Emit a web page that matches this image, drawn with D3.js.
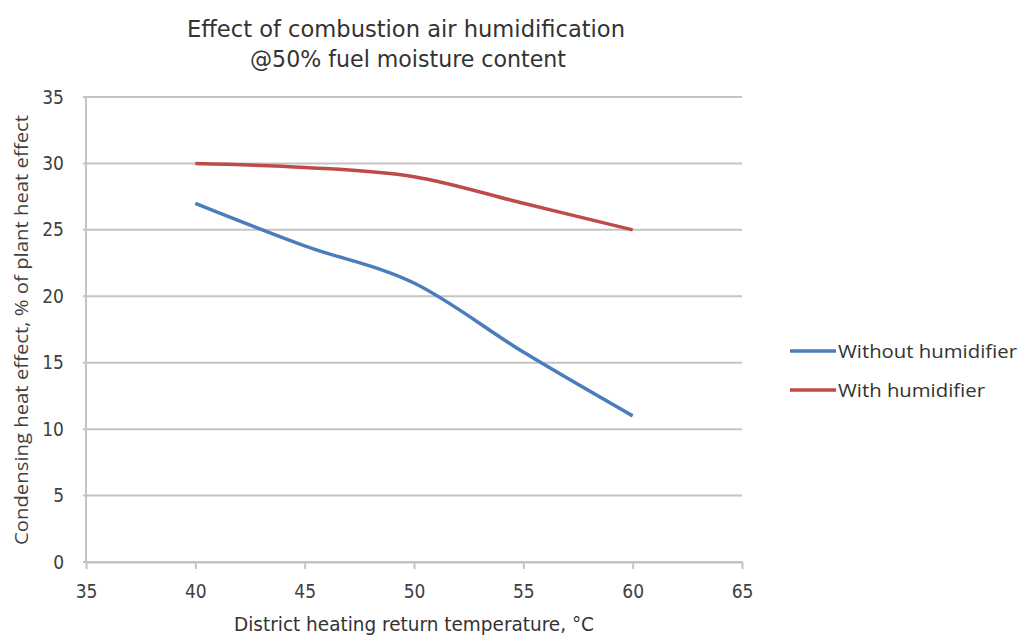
<!DOCTYPE html>
<html>
<head>
<meta charset="utf-8">
<script src="https://cdn.jsdelivr.net/npm/d3@7"></script>
<style>
body { margin: 0; background: #fff; }
</style>
</head>
<body>
<div id="chart"></div>
<script>
var temps = [40, 45, 50, 55, 60];
var withoutHum = [27, 23.8, 21, 15.8, 11];
var withHum = [30, 29.7, 29, 27, 25];
var seriesNames = ["Without humidifier", "With humidifier"];
var xTicks = [35, 40, 45, 50, 55, 60, 65];
var yTicks = [0, 5, 10, 15, 20, 25, 30, 35];

var margin = ({top: 97, right: 277, bottom: 77, left: 86});
var width = 1019 - margin.left - margin.right;
var height = 639 - margin.top - margin.bottom;
var colors = ["#4a7ebb", "#be4b48"];
var narrow = "'DejaVu Sans Condensed', 'Liberation Sans Narrow', 'Open Sans', sans-serif";

var x = d3.scaleLinear().domain([35, 65]).range([0, width]);
var y = d3.scaleLinear().domain([0, 35]).range([height, 0]);

var svg = d3.select("#chart")
  .append("svg")
  .attr("width", 1019)
  .attr("height", 639);

var g = svg.append("g")
  .attr("transform", "translate(" + margin.left + "," + margin.top + ")");

// gridlines
g.append("g")
  .selectAll("line")
  .data(yTicks)
  .enter()
  .append("line")
  .attr("x1", -3)
  .attr("x2", width)
  .attr("y1", d => y(d))
  .attr("y2", d => y(d))
  .attr("stroke", "#c4c4c4")
  .attr("stroke-width", 2);

// y axis line
g.append("line")
  .attr("x1", 0).attr("x2", 0)
  .attr("y1", 0).attr("y2", height)
  .attr("stroke", "#c4c4c4")
  .attr("stroke-width", 2);

var xAxis = g.append("g")
  .attr("transform", "translate(0," + height + ")")
  .call(d3.axisBottom(x).tickValues(xTicks).tickSize(7).tickSizeOuter(0).tickPadding(16));
xAxis.select(".domain").attr("stroke", "#c4c4c4").attr("stroke-width", 2);
xAxis.selectAll(".tick line").attr("stroke", "#c4c4c4").attr("stroke-width", 2);
xAxis.selectAll("text")
  .attr("font-family", narrow)
  .attr("font-size", "19px")
  .attr("fill", "#404040");

var yAxis = g.append("g")
  .call(d3.axisLeft(y).tickValues(yTicks).tickSize(0).tickPadding(22));
yAxis.select(".domain").remove();
yAxis.selectAll("text")
  .attr("font-family", narrow)
  .attr("font-size", "19px")
  .attr("fill", "#404040");

var line = d3.line()
  .x((d, i) => x(temps[i]))
  .y(d => y(d))
  .curve(d3.curveCardinal);

[withoutHum, withHum].forEach((s, i) => {
  g.append("path")
    .datum(s)
    .attr("fill", "none")
    .attr("stroke", colors[i])
    .attr("stroke-width", 3.5)
    .attr("d", line);
});

// title
svg.append("text")
  .attr("x", 406)
  .attr("y", 37)
  .attr("text-anchor", "middle")
  .attr("font-family", narrow)
  .attr("font-size", "23px")
  .attr("fill", "#333")
  .attr("textLength", 438)
  .attr("lengthAdjust", "spacingAndGlyphs")
  .text("Effect of combustion air humidification");
svg.append("text")
  .attr("x", 408)
  .attr("y", 67)
  .attr("text-anchor", "middle")
  .attr("font-family", narrow)
  .attr("font-size", "23px")
  .attr("fill", "#333")
  .attr("textLength", 316)
  .attr("lengthAdjust", "spacingAndGlyphs")
  .text("@50% fuel moisture content");

// axis titles
svg.append("text")
  .attr("x", 414)
  .attr("y", 631)
  .attr("text-anchor", "middle")
  .attr("font-family", narrow)
  .attr("font-size", "19px")
  .attr("fill", "#333")
  .attr("textLength", 360)
  .attr("lengthAdjust", "spacingAndGlyphs")
  .text("District heating return temperature, °C");

svg.append("text")
  .attr("transform", "translate(28,330) rotate(-90)")
  .attr("text-anchor", "middle")
  .attr("font-family", "'Open Sans', sans-serif")
  .attr("font-size", "19px")
  .attr("fill", "#404040")
  .attr("textLength", 430)
  .attr("lengthAdjust", "spacingAndGlyphs")
  .text("Condensing heat effect, % of plant heat effect");

// legend
var legend = svg.append("g")
  .attr("transform", "translate(790,351)");
seriesNames.forEach((name, i) => {
  legend.append("line")
    .attr("x1", 0).attr("x2", 46)
    .attr("y1", i * 39).attr("y2", i * 39)
    .attr("stroke", colors[i])
    .attr("stroke-width", 3.5);
  legend.append("text")
    .attr("x", 48)
    .attr("y", i * 39 + 7)
    .attr("font-family", "'Open Sans', sans-serif")
    .attr("font-size", "19px")
    .attr("fill", "#333")
    .attr("textLength", i === 0 ? 179 : 147)
    .attr("lengthAdjust", "spacingAndGlyphs")
    .text(name);
});
</script>
</body>
</html>
